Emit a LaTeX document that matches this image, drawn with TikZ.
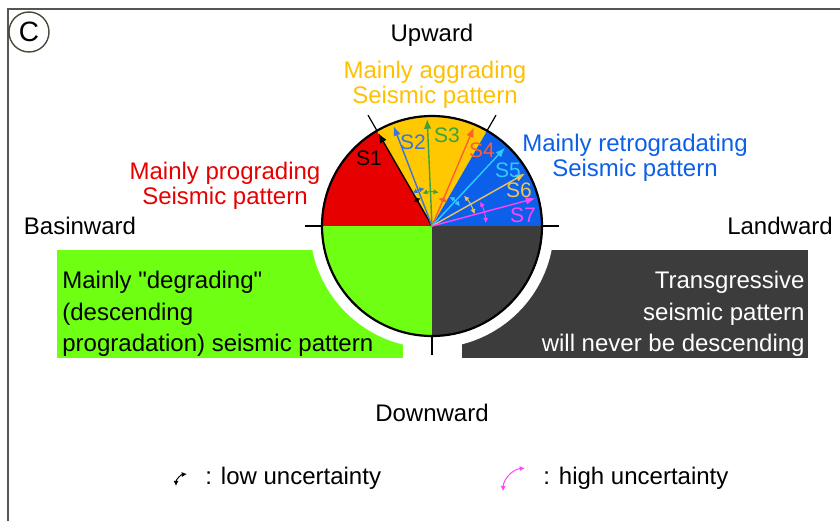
\documentclass[tikz,border=0pt]{standalone}
\usepackage{fontspec}
\setmainfont{Liberation Sans}[Ligatures=TeXOff]
\usetikzlibrary{arrows.meta,calc}
\definecolor{framegray}{HTML}{555555}
\definecolor{tagring}{HTML}{4A4A3A}
\definecolor{progred}{HTML}{E60000}
\definecolor{aggyel}{HTML}{FFC800}
\definecolor{aggtext}{HTML}{FFC000}
\definecolor{retblue}{HTML}{0B5FE8}
\definecolor{degreen}{HTML}{6EFF12}
\definecolor{transdark}{HTML}{3C3C3C}
\definecolor{stwo}{HTML}{3A74DC}
\definecolor{sthree}{HTML}{3DA23D}
\definecolor{sfour}{HTML}{FF5C33}
\definecolor{sfive}{HTML}{2ECBFF}
\definecolor{ssix}{HTML}{E8C35C}
\definecolor{sseven}{HTML}{FF45FF}
\tikzset{
  lbl/.style    = {font=\fontsize{12}{12.5}\selectfont,align=center,inner sep=0pt},
  boxtxt/.style = {font=\fontsize{12}{15.75}\selectfont,inner sep=0pt},
  slbl/.style   = {font=\fontsize{10.5}{12}\selectfont,inner sep=0pt},
  sarr/.style   = {-{Latex[length=4.8pt,width=3.8pt]},line width=0.7pt},
  uarc/.style   = {{Latex[length=2.6pt,width=2.6pt]}-{Latex[length=2.6pt,width=2.6pt]},
                   line width=0.5pt},
  tick/.style   = {line width=0.6pt},
}
\newcommand{\seisarrow}[5]{%
  \path (o) ++(#3:107) coordinate (#1-tip);
  \draw[sarr,#2] (o) -- (#1-tip);
  \draw[uarc,#2] (o) ++(#3-#5:#4) arc[start angle=#3-#5,end angle=#3+#5,radius=#4];
}
\begin{document}
\begin{tikzpicture}[x=0.5pt,y=0.5pt]
  \useasboundingbox (0,0) rectangle (840,520);
  \draw[framegray,line width=1.1pt] (8,-10) rectangle (850,511);
  \node[circle,draw=tagring,line width=0.7pt,minimum size=20pt,inner sep=0pt,
        font=\fontsize{14}{14}\selectfont] (tag) at (29,488) {C};

  \coordinate (o) at (432,294);
  \fill[degreen] (57,162) rectangle (403,270);
  \fill[transdark] (462,162) rectangle (808,270);
  \fill[white] (o) ++(180:122) arc[start angle=180,end angle=360,radius=122] -- cycle;

  \fill[degreen] (o) -- ++(180:110) arc[start angle=180,end angle=270,radius=110] -- cycle;
  \fill[transdark] (o) -- ++(270:110) arc[start angle=270,end angle=360,radius=110] -- cycle;
  \fill[progred] (o) -- ++(120:110) arc[start angle=120,end angle=180,radius=110] -- cycle;
  \fill[aggyel] (o) -- ++(60:110) arc[start angle=60,end angle=120,radius=110] -- cycle;
  \fill[retblue] (o) -- ++(0:110) arc[start angle=0,end angle=60,radius=110] -- cycle;
  \draw[line width=1.1pt] (o) circle[radius=110];

  \draw[tick] (o) ++(180:110) -- ++(180:17);
  \draw[tick] (o) ++(0:110) -- ++(0:17);
  \draw[tick] (o) ++(270:110) -- ++(270:19);
  \draw[tick] (o) ++(60:110) -- ++(60:18);
  \draw[tick] (o) ++(120:110) -- ++(120:18);

  \seisarrow{s1}{black}{120}{30}{8}
  \seisarrow{s2}{stwo}{111}{38}{10}
  \seisarrow{s3}{sthree}{92.6}{34}{14}
  \seisarrow{s4}{sfour}{67}{28}{10}
  \seisarrow{s5}{sfive}{47}{34}{12}
  \seisarrow{s6}{ssix}{29.4}{44}{14}
  \seisarrow{s7}{sseven}{15}{54}{12}

  \node[slbl,text=black] (s1lbl) at (369,362) {S1};
  \node[slbl,text=stwo] (s2lbl) at (413,378) {S2};
  \node[slbl,text=sthree] (s3lbl) at (447,385) {S3};
  \node[slbl,text=sfour] (s4lbl) at (482,370) {S4};
  \node[slbl,text=sfive] (s5lbl) at (508,350) {S5};
  \node[slbl,text=ssix] (s6lbl) at (519,330) {S6};
  \node[slbl,text=sseven] (s7lbl) at (523,305) {S7};

  \node[lbl,text=aggtext] (aggr) at (435,435) {Mainly aggrading\\Seismic pattern};
  \node[lbl,text=progred] (prog) at (225,334) {Mainly prograding\\Seismic pattern};
  \node[lbl,text=retblue] (retr) at (635,362) {Mainly retrogradating\\Seismic pattern};

  \node[lbl] (up) at (432,485) {Upward};
  \node[lbl] (down) at (432,107) {Downward};
  \node[lbl] (basin) at (80,294) {Basinward};
  \node[lbl] (land) at (780,294) {Landward};

  \node[boxtxt,anchor=west,align=left] (degr) at (62,206)
    {Mainly "degrading"\\(descending\\progradation) seismic pattern};
  \node[boxtxt,anchor=east,align=right,text=white] (trans) at (805,206)
    {Transgressive\\seismic pattern\\will never be descending};

  \coordinate (lowsym) at (188,34);
  \draw[uarc,black] (lowsym) ++(180:12) arc[start angle=180,end angle=95,radius=12];
  \node[lbl,anchor=west] (low) at (205,42) {: low uncertainty};
  \coordinate (highsym) at (527,28);
  \draw[uarc,sseven] (highsym) ++(178:24) arc[start angle=178,end angle=95,radius=24];
  \node[lbl,anchor=west] (high) at (543,42) {: high uncertainty};
\end{tikzpicture}
\end{document}
